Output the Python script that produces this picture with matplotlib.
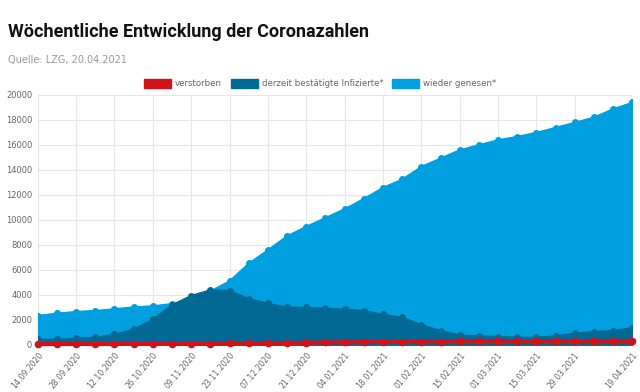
import matplotlib.pyplot as plt
from matplotlib.patches import Patch
import numpy as np

dates = ['14.09.2020', '21.09.2020', '28.09.2020', '05.10.2020', '12.10.2020', '19.10.2020',
         '26.10.2020', '02.11.2020', '09.11.2020', '16.11.2020', '23.11.2020', '30.11.2020',
         '07.12.2020', '14.12.2020', '21.12.2020', '28.12.2020', '04.01.2021', '11.01.2021',
         '18.01.2021', '25.01.2021', '01.02.2021', '08.02.2021', '15.02.2021', '22.02.2021',
         '01.03.2021', '08.03.2021', '15.03.2021', '22.03.2021', '29.03.2021', '05.04.2021',
         '12.04.2021', '19.04.2021']

genesen = [2350, 2530, 2670, 2750, 2880, 3040, 3120, 3300, 3650, 4300, 5120, 6530,
           7600, 8720, 9470, 10180, 10880, 11700, 12590, 13250, 14270, 14930, 15600, 16000,
           16400, 16670, 16990, 17390, 17790, 18210, 18880, 19390]
infizierte = [450, 450, 530, 610, 850, 1250, 2050, 3200, 3950, 4400, 4350, 3700,
              3330, 3010, 3010, 2930, 2850, 2750, 2450, 2210, 1600, 1150, 800, 720,
              670, 610, 610, 720, 930, 1070, 1150, 1390]
verstorben = [70, 70, 75, 75, 80, 85, 90, 95, 100, 110, 120, 135,
              150, 165, 180, 200, 215, 230, 245, 255, 265, 275, 280, 285,
              290, 295, 300, 305, 310, 315, 320, 330]

# labelled weeks (every second one, plus the last)
tick_idx = list(range(0, 29, 2)) + [31]

c_red = '#d0121b'
c_dark = '#006994'
c_light = '#009fe0'

fig = plt.figure(figsize=(6.4, 3.92), dpi=100)
ax = fig.add_axes([0.059, 0.12, 0.929, 0.638])
ax.set_axisbelow(True)
x = np.arange(len(dates))

ax.fill_between(x, genesen, color=c_light, zorder=2)
ax.plot(x, genesen, color=c_light, marker='o', markersize=4, lw=1, zorder=3)
ax.fill_between(x, infizierte, color=c_dark, zorder=4)
ax.plot(x, infizierte, color=c_dark, marker='o', markersize=4, lw=1, zorder=5)
ax.plot(x, verstorben, color=c_red, marker='o', markersize=4.5, lw=3, zorder=6,
        clip_on=False)

ax.set_xlim(0, len(dates) - 1)
ax.set_ylim(0, 20000)
ax.set_yticks(range(0, 20001, 2000))
ax.set_xticks(tick_idx)
ax.set_xticklabels([dates[i] for i in tick_idx], rotation=50, ha='right',
                   rotation_mode='anchor')
ax.tick_params(axis='y', length=0, labelsize=6, labelcolor='#666666', pad=4)
ax.tick_params(axis='x', length=0, labelsize=5.6, labelcolor='#666666', pad=4)
ax.grid(True, color='#e6e6e6', lw=0.8)
for s in ax.spines.values():
    s.set_visible(False)

fig.text(0.012, 0.905, 'Wöchentliche Entwicklung der Coronazahlen', fontsize=13,
         fontweight='bold', family='Roboto', color='#111111')
fig.text(0.012, 0.84, 'Quelle: LZG, 20.04.2021', fontsize=7, color='#999999')

handles = [Patch(color=c_red, label='verstorben'),
           Patch(color=c_dark, label='derzeit bestätigte Infizierte*'),
           Patch(color=c_light, label='wieder genesen*')]
leg = fig.legend(handles=handles, loc='center', bbox_to_anchor=(0.5, 0.786), ncol=3,
                 frameon=False, fontsize=6.2, handlelength=3.2, handleheight=1.1,
                 columnspacing=1.0, handletextpad=0.4)
for t in leg.get_texts():
    t.set_color('#666666')

fig.savefig('out.png', dpi=100)
